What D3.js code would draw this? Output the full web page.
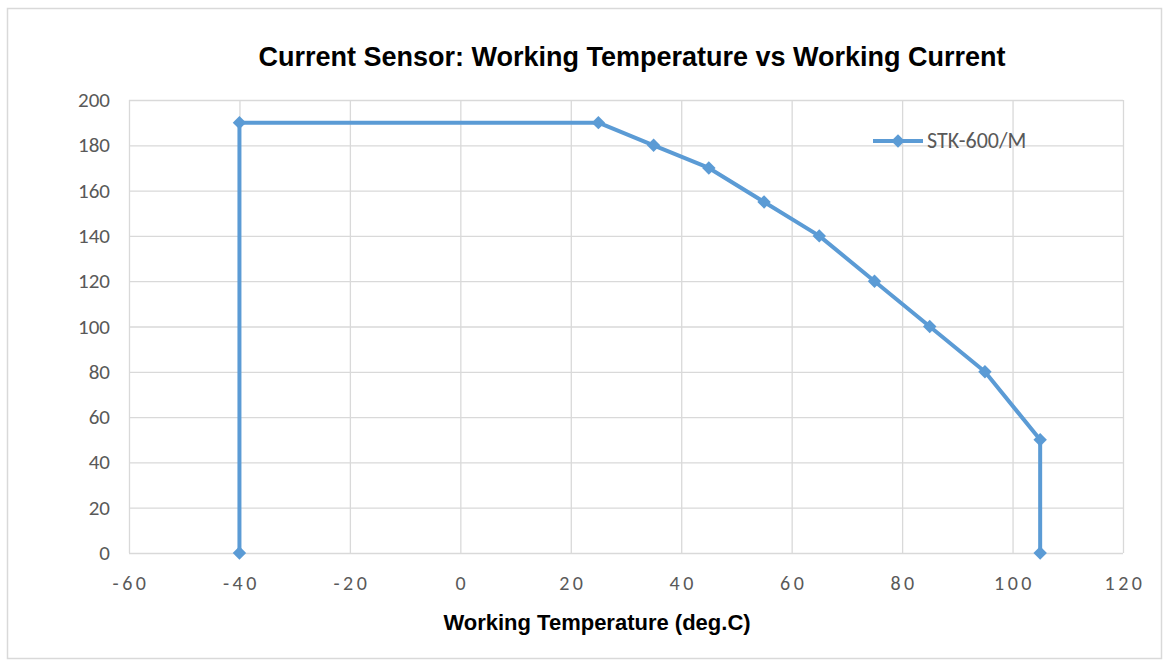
<!DOCTYPE html>
<html><head><meta charset="utf-8">
<script src="https://cdn.jsdelivr.net/npm/d3@7"></script>
<style>body{margin:0;background:#fff}svg{display:block}</style>
</head><body>
<svg id="c" width="1168" height="662"></svg>
<script>
const temps = [-40, -40, 25, 35, 45, 55, 65, 75, 85, 95, 105, 105];
const currents = [0, 190, 190, 180, 170, 155, 140, 120, 100, 80, 50, 0];
const xTicks = [-60, -40, -20, 0, 20, 40, 60, 80, 100, 120];
const yTicks = [0, 20, 40, 60, 80, 100, 120, 140, 160, 180, 200];
const seriesName = "STK-600/M";
const title = "Current Sensor: Working Temperature vs Working Current";
const xTitle = "Working Temperature (deg.C)";

const svg = d3.select("#c");
const color = "#5B9BD5";
const L = 129, R = 1123, T = 100, B = 553;
const x = d3.scaleLinear().domain([-60, 120]).range([L, R]);
const y = d3.scaleLinear().domain([0, 200]).range([B, T]);

svg.append("rect").attr("x", 7.5).attr("y", 8.5).attr("width", 1154).attr("height", 650)
  .attr("fill", "#fff").attr("stroke", "#d9d9d9").attr("stroke-width", 1.5);

// grid
const xg = svg.append("g").attr("transform", `translate(0,${B})`)
  .call(d3.axisBottom(x).tickValues(xTicks).tickSize(-(B - T)).tickFormat(""));
const yg = svg.append("g").attr("transform", `translate(${L},0)`)
  .call(d3.axisLeft(y).tickValues(yTicks).tickSize(-(R - L)).tickFormat(""));
[xg, yg].forEach(g => {
  g.select(".domain").remove();
  g.selectAll("line").attr("stroke", "#d9d9d9").attr("stroke-width", 1.3);
});

// tick labels
const tickFont = "Calibri, Carlito, Lato, 'Liberation Sans', Arial, sans-serif";
svg.append("g").selectAll("text").data(xTicks).join("text")
  .attr("x", d => x(d) + 2).attr("y", 590).attr("text-anchor", "middle")
  .attr("font-family", tickFont).attr("font-size", 20).attr("fill", "#595959")
  .attr("letter-spacing", "3.5px").text(d => d);
svg.append("g").selectAll("text").data(yTicks).join("text")
  .attr("x", 110).attr("y", d => y(d) + 7).attr("text-anchor", "end")
  .attr("font-family", tickFont).attr("font-size", 21).attr("fill", "#595959")
  .text(d => d);

// line
const pts = temps.map((t, i) => [t, currents[i]]);
svg.append("path").datum(pts)
  .attr("d", d3.line().x(d => x(d[0])).y(d => y(d[1])))
  .attr("fill", "none").attr("stroke", color).attr("stroke-width", 4)
  .attr("stroke-linejoin", "round");
const marker = d3.symbol().type(d3.symbolSquare).size(90);
svg.append("g").selectAll("path").data(pts).join("path")
  .attr("d", marker)
  .attr("transform", d => `translate(${x(d[0])},${y(d[1])}) rotate(45)`)
  .attr("fill", color);

// legend
svg.append("line").attr("x1", 873).attr("x2", 923).attr("y1", 141).attr("y2", 141)
  .attr("stroke", color).attr("stroke-width", 4);
svg.append("path").attr("d", marker)
  .attr("transform", "translate(898,141) rotate(45)").attr("fill", color);
svg.append("text").attr("x", 927).attr("y", 148).attr("font-family", tickFont)
  .attr("font-size", 22).attr("fill", "#595959").text(seriesName);

// titles
svg.append("text").attr("x", 632).attr("y", 66).attr("text-anchor", "middle")
  .attr("font-family", "'Liberation Sans', Arial, sans-serif").attr("font-weight", "bold")
  .attr("font-size", 27).attr("fill", "#000").text(title);
svg.append("text").attr("x", 597).attr("y", 630).attr("text-anchor", "middle")
  .attr("font-family", "'Liberation Sans', Arial, sans-serif").attr("font-weight", "bold")
  .attr("font-size", 22).attr("fill", "#000").text(xTitle);
</script>
</body></html>
